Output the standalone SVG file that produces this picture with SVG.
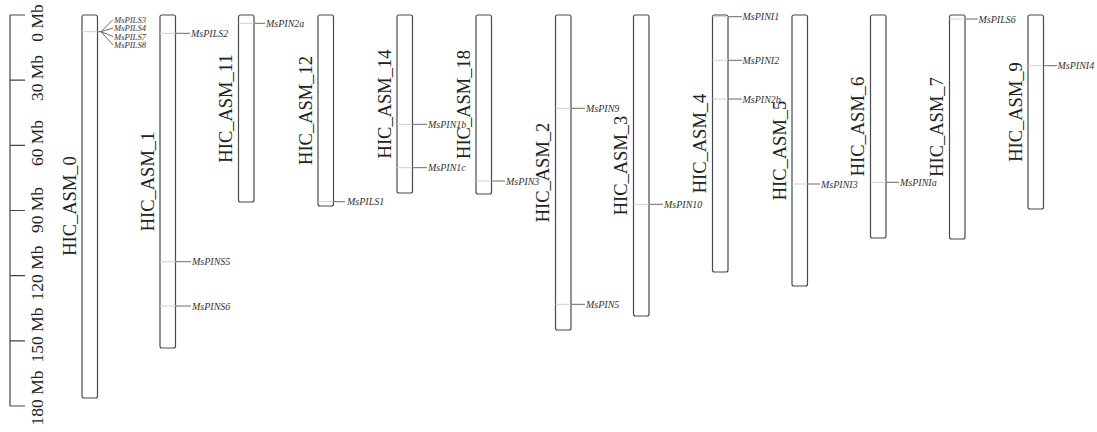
<svg xmlns="http://www.w3.org/2000/svg" width="1097" height="432" viewBox="0 0 1097 432">
<style>
.chr{fill:#fff;stroke:#4a4a4a;stroke-width:1.2}
.clab{font-family:"Liberation Serif",serif;font-size:18.5px;fill:#222;text-anchor:middle}
.slab{font-family:"Liberation Serif",serif;font-size:17.5px;fill:#222;text-anchor:middle}
.axis{stroke:#444;stroke-width:1.2;fill:none}
.g{font-family:"Liberation Serif",serif;font-size:10px;font-style:italic;fill:#333}
.gs{font-size:8.6px}
.lt{stroke:#d0d0d0;stroke-width:1;fill:none}
.cn{stroke:#6a6a6a;stroke-width:1;fill:none}
</style>
<rect width="1097" height="432" fill="#fff"/>
<g id="scale">
<path class="axis" d="M10,15V406M10,15H25M10,80.2H25M10,145.3H25M10,210.5H25M10,275.7H25M10,340.8H25M10,406H25"/>
<text class="slab" transform="translate(43,23) rotate(-90)">0 Mb</text>
<text class="slab" transform="translate(43,78) rotate(-90)">30 Mb</text>
<text class="slab" transform="translate(43,143) rotate(-90)">60 Mb</text>
<text class="slab" transform="translate(43,210) rotate(-90)">90 Mb</text>
<text class="slab" transform="translate(43,273) rotate(-90)">120 Mb</text>
<text class="slab" transform="translate(43,335) rotate(-90)">150 Mb</text>
<text class="slab" transform="translate(43,398) rotate(-90)">180 Mb</text>
</g>
<g id="HIC_ASM_0"><rect class="chr" x="82" y="15" width="15.5" height="383" rx="2"/><text class="clab" transform="translate(76,206) rotate(-90)">HIC_ASM_0</text></g>
<g id="HIC_ASM_1"><rect class="chr" x="160" y="15" width="15.5" height="333" rx="2"/><text class="clab" transform="translate(154,181.5) rotate(-90)">HIC_ASM_1</text></g>
<g id="HIC_ASM_11"><rect class="chr" x="238.5" y="15" width="15.5" height="187" rx="2"/><text class="clab" transform="translate(232,108.5) rotate(-90)">HIC_ASM_11</text></g>
<g id="HIC_ASM_12"><rect class="chr" x="318" y="15" width="15.5" height="191" rx="2"/><text class="clab" transform="translate(311.5,110.5) rotate(-90)">HIC_ASM_12</text></g>
<g id="HIC_ASM_14"><rect class="chr" x="397" y="15" width="15.5" height="178" rx="2"/><text class="clab" transform="translate(391,104) rotate(-90)">HIC_ASM_14</text></g>
<g id="HIC_ASM_18"><rect class="chr" x="476" y="15" width="15.5" height="179" rx="2"/><text class="clab" transform="translate(469.5,104.5) rotate(-90)">HIC_ASM_18</text></g>
<g id="HIC_ASM_2"><rect class="chr" x="555.5" y="15" width="15.5" height="315" rx="2"/><text class="clab" transform="translate(549,172.5) rotate(-90)">HIC_ASM_2</text></g>
<g id="HIC_ASM_3"><rect class="chr" x="633.5" y="15" width="15.5" height="301" rx="2"/><text class="clab" transform="translate(627,165.5) rotate(-90)">HIC_ASM_3</text></g>
<g id="HIC_ASM_4"><rect class="chr" x="712.5" y="15" width="15.5" height="257" rx="2"/><text class="clab" transform="translate(706,143.5) rotate(-90)">HIC_ASM_4</text></g>
<g id="HIC_ASM_5"><rect class="chr" x="792" y="15" width="15.5" height="271" rx="2"/><text class="clab" transform="translate(785.5,150.5) rotate(-90)">HIC_ASM_5</text></g>
<g id="HIC_ASM_6"><rect class="chr" x="870.5" y="15" width="15.5" height="223" rx="2"/><text class="clab" transform="translate(864,126.5) rotate(-90)">HIC_ASM_6</text></g>
<g id="HIC_ASM_7"><rect class="chr" x="949.5" y="15" width="15.5" height="224" rx="2"/><text class="clab" transform="translate(943,127) rotate(-90)">HIC_ASM_7</text></g>
<g id="HIC_ASM_9"><rect class="chr" x="1028" y="15" width="15.5" height="194" rx="2"/><text class="clab" transform="translate(1021.5,112) rotate(-90)">HIC_ASM_9</text></g>
<g id="connectors">
<path class="lt" d="M82,31.7H100M160,33.3H176M160,261.7H176M160,306H176M238.5,23.3H254M318,201.7H333.5M397,124.3H412.5M397,167.7H412.5M476,181H491.5M555.5,108.3H571M555.5,304.3H571M633.5,204.3H649M712.5,16.7H728M712.5,60.3H728M712.5,99H728M792,184H807.5M870.5,182.3H886M949.5,19H965M1028,65.7H1043.5"/>
<path class="cn" d="M97.5,31.7H101L113,19.5M101,31.7L113,28M101,31.7L113,36.5M101,31.7L113,45"/>
<path class="cn" d="M175.5,33.3H190M175.5,261.7H191M175.5,306H191M254,23.3H265M333.5,201.7H345M412.5,124.3H427M412.5,167.7H427M491.5,181H505M571,108.3H585M571,304.3H585M649,204.3H663M728,16.7H742M728,60.3H742M728,99H742M807.5,184H820M886,182.3H899M965,19H978M1043.5,65.7H1057"/>
</g>
<g id="genes">
<text class="g gs" x="114" y="22.5">MsPILS3</text>
<text class="g gs" x="114" y="31">MsPILS4</text>
<text class="g gs" x="114" y="39.5">MsPILS7</text>
<text class="g gs" x="114" y="48">MsPILS8</text>
<text class="g" x="191" y="36.8">MsPILS2</text>
<text class="g" x="192" y="265.2">MsPINS5</text>
<text class="g" x="192" y="309.5">MsPINS6</text>
<text class="g" x="266" y="26.8">MsPIN2a</text>
<text class="g" x="347" y="205.2">MsPILS1</text>
<text class="g" x="428" y="127.8">MsPIN1b</text>
<text class="g" x="428" y="171.2">MsPIN1c</text>
<text class="g" x="506" y="184.5">MsPIN3</text>
<text class="g" x="586" y="111.8">MsPIN9</text>
<text class="g" x="586" y="307.8">MsPIN5</text>
<text class="g" x="664" y="207.8">MsPIN10</text>
<text class="g" x="742.5" y="20.2">MsPINI1</text>
<text class="g" x="742.5" y="63.8">MsPINI2</text>
<text class="g" x="742.5" y="102.5">MsPIN2b</text>
<text class="g" x="821" y="187.5">MsPINI3</text>
<text class="g" x="900" y="185.8">MsPINIa</text>
<text class="g" x="978.5" y="22.5">MsPILS6</text>
<text class="g" x="1057.5" y="69.2">MsPINI4</text>
</g>
</svg>
